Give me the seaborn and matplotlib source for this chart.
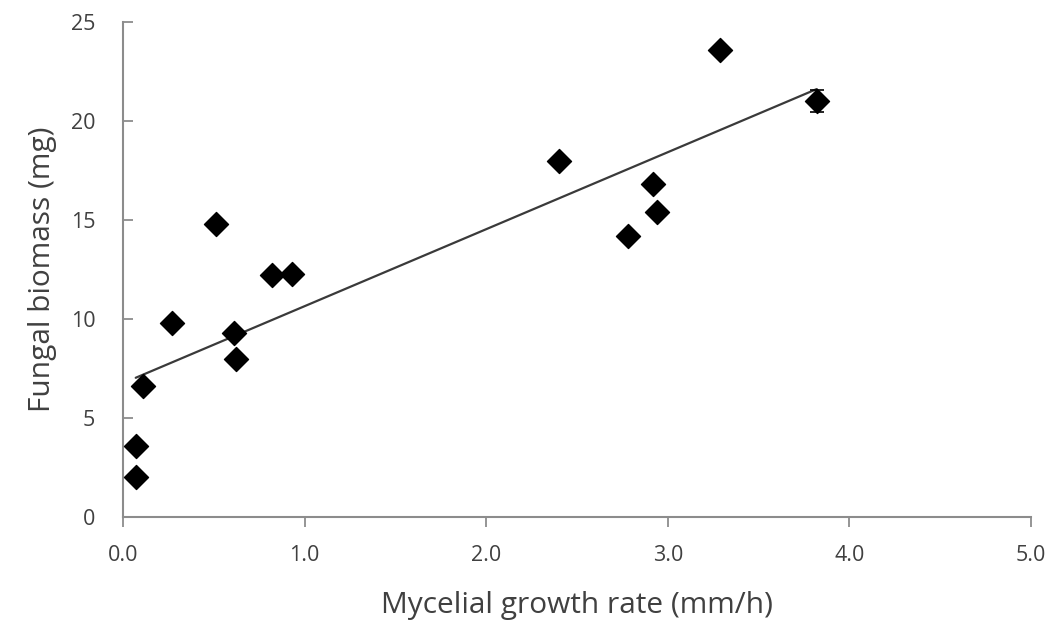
import numpy as np
import pandas as pd
import seaborn as sns
import matplotlib
matplotlib.use("Agg")
import matplotlib.pyplot as plt

growth_rate = [0.07, 0.07, 0.11, 0.27, 0.51, 0.61, 0.62, 0.82, 0.93, 2.40, 2.78, 2.92, 2.94, 3.29, 3.82]
biomass = [2.0, 3.6, 6.6, 9.8, 14.8, 9.3, 8.0, 12.2, 12.3, 18.0, 14.2, 16.8, 15.4, 23.6, 21.0]
biomass_err = [0, 0, 0, 0, 0, 0, 0, 0, 0, 0, 0, 0, 0, 0, 0.55]
x_ticks = [0.0, 1.0, 2.0, 3.0, 4.0, 5.0]
y_ticks = [0, 5, 10, 15, 20, 25]

df = pd.DataFrame({"rate": growth_rate, "biomass": biomass, "err": biomass_err})

sns.set_theme(style="white")
plt.rcParams['font.family'] = ['Open Sans', 'DejaVu Sans']

fig = plt.figure(figsize=(10.54, 6.35), dpi=100)
ax = fig.add_axes([0.1167, 0.186, 0.8615, 0.779])

sns.regplot(data=df, x="rate", y="biomass", ci=None, ax=ax, truncate=True,
            scatter=False, line_kws=dict(color="#3a3a3a", lw=1.6))
sel = df["err"] > 0
ax.errorbar(df["rate"][sel], df["biomass"][sel], yerr=df["err"][sel], fmt="none",
            ecolor="black", capsize=5, elinewidth=1.2, capthick=1.2, zorder=3)
sns.scatterplot(data=df, x="rate", y="biomass", ax=ax, marker="D", s=150,
                color="black", edgecolor="black", zorder=4)

ax.set_xlim(0, 5)
ax.set_ylim(0, 25)
ax.set_xticks(x_ticks)
ax.set_xticklabels([f"{t:.1f}" for t in x_ticks])
ax.set_yticks(y_ticks)
ax.set_yticklabels([str(t) for t in y_ticks])

for s in ["top", "right"]:
    ax.spines[s].set_visible(False)
for s in ["left", "bottom"]:
    ax.spines[s].set_color("#8c8c8c")
    ax.spines[s].set_linewidth(1.5)

ax.tick_params(axis="x", direction="out", length=7, width=1.3, color="#8c8c8c",
               labelsize=15.5, labelcolor="#404040", pad=13, bottom=True)
ax.tick_params(axis="y", direction="in", length=7, width=1.3, color="#8c8c8c",
               labelsize=15.5, labelcolor="#404040", pad=20, left=True)

ax.set_xlabel("Mycelial growth rate (mm/h)", fontsize=21.5, color="#404040", labelpad=18)
ax.set_ylabel("Fungal biomass (mg)", fontsize=21.5, color="#404040", labelpad=10)

fig.savefig("out.png", dpi=100)
